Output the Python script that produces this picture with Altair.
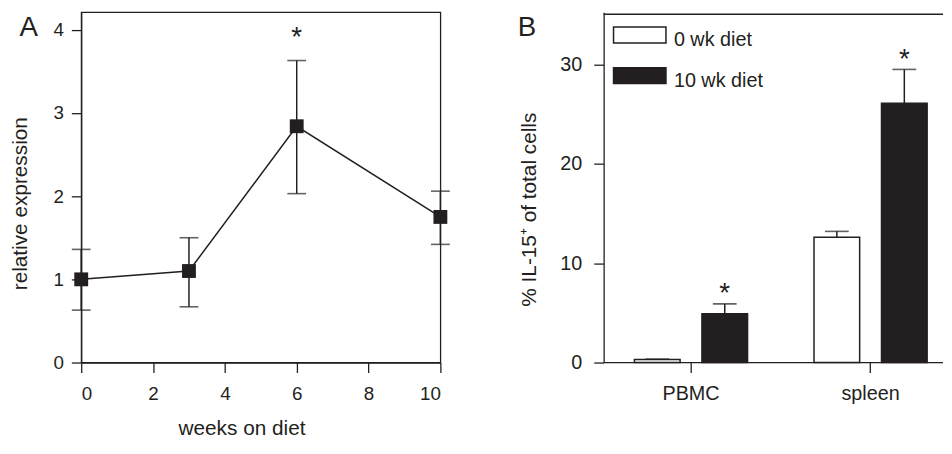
import altair as alt
import pandas as pd

INK = "#231f20"
FONT = "Liberation Sans"

# ---------------- Panel A data ----------------
weeks = [0, 3, 6, 10]
rel_expr = [1.00, 1.10, 2.84, 1.75]
rel_lo = [0.63, 0.67, 2.03, 1.42]
rel_hi = [1.36, 1.50, 3.63, 2.06]
star_a_week = [6]
star_a_y = [3.80]

# ---------------- Panel B data ----------------
tissues = ["PBMC", "spleen"]
diets = ["0 wk diet", "10 wk diet"]
pct_0wk = [0.3, 12.6]
pct_0wk_err = [0.35, 13.2]
pct_10wk = [4.9, 26.1]
pct_10wk_err = [5.9, 29.5]
star_b_tissue = ["PBMC", "spleen"]
star_b_diet = ["10 wk diet", "10 wk diet"]
star_b_y = [6.1, 29.6]

dfA = pd.DataFrame({"week": weeks, "expr": rel_expr, "lo": rel_lo, "hi": rel_hi})
dfStarA = pd.DataFrame({"week": star_a_week, "expr": star_a_y})

rows = []
for i, t in enumerate(tissues):
    rows.append({"tissue": t, "diet": diets[0], "pct": pct_0wk[i], "err": pct_0wk_err[i]})
    rows.append({"tissue": t, "diet": diets[1], "pct": pct_10wk[i], "err": pct_10wk_err[i]})
dfB = pd.DataFrame(rows)
dfStarB = pd.DataFrame({"tissue": star_b_tissue, "diet": star_b_diet, "pct": star_b_y})

H = 354
WA = 363
WB = 343

axis_common = dict(
    domainColor=INK, domainWidth=1.3, tickColor=INK, tickWidth=1.3, tickSize=10,
    labelFont=FONT, labelColor=INK, titleFont=FONT, titleColor=INK,
    titleFontWeight="normal", grid=False,
)

YA_TITLE = "relative expression"
YB_TITLE = "% IL-15\u207a of total cells"

# ---------------- Panel A ----------------
xA = alt.X("week:Q", scale=alt.Scale(domain=[0, 10], nice=False, zero=False),
           axis=alt.Axis(values=[0, 2, 4, 6, 8, 10], format="d", title="weeks on diet",
                         labelFontSize=19, labelPadding=12, titleFontSize=21,
                         titlePadding=15, titleX=162, **axis_common))
yA = alt.Y("expr:Q", title=YA_TITLE, scale=alt.Scale(domain=[0, 4.21], nice=False),
           axis=alt.Axis(values=[0, 1, 2, 3, 4], format="d", title=YA_TITLE,
                         labelFontSize=19, labelPadding=8, titleFontSize=21,
                         titlePadding=23, titleY=193, **axis_common))

baseA = alt.Chart(dfA)
lineA = baseA.mark_line(color=INK, strokeWidth=1.5).encode(x=xA, y=yA)
ruleA = baseA.mark_rule(color=INK, strokeWidth=1.5).encode(
    x="week:Q", y=alt.Y("lo:Q", title=YA_TITLE), y2="hi:Q")
capLoA = baseA.mark_tick(orient="horizontal", size=19, thickness=1.6, color=INK).encode(
    x="week:Q", y=alt.Y("lo:Q", title=YA_TITLE))
capHiA = baseA.mark_tick(orient="horizontal", size=19, thickness=1.6, color=INK).encode(
    x="week:Q", y=alt.Y("hi:Q", title=YA_TITLE))
ptsA = baseA.mark_square(size=196, color=INK, opacity=1).encode(
    x="week:Q", y=alt.Y("expr:Q", title=YA_TITLE))
starA = alt.Chart(dfStarA).mark_text(text="*", font=FONT, fontSize=28, color=INK,
                                     baseline="alphabetic").encode(
    x="week:Q", y=alt.Y("expr:Q", title=YA_TITLE))
letterA = alt.Chart(pd.DataFrame({"t": ["A"]})).mark_text(
    font=FONT, fontSize=28, color=INK, baseline="top", align="center").encode(
    x=alt.value(-53), y=alt.value(2), text="t:N")

panelA = alt.layer(lineA, ruleA, capLoA, capHiA, ptsA, starA, letterA).properties(
    width=WA, height=H, view=alt.ViewBackground(stroke=INK, strokeWidth=1.3))

# ---------------- Panel B ----------------
xB = alt.X("tissue:N", sort=tissues,
           scale=alt.Scale(paddingInner=0.37, paddingOuter=0.1300, align=0.66),
           axis=alt.Axis(title=None, labelAngle=0, domain=False, labelFontSize=20,
                         labelPadding=11, **axis_common))
xoB = alt.XOffset("diet:N", sort=diets, scale=alt.Scale(paddingInner=0.3235, paddingOuter=0))
yB = alt.Y("pct:Q", title=YB_TITLE, scale=alt.Scale(domain=[0, 35.25], nice=False),
           axis=alt.Axis(values=[0, 10, 20, 30], format="d", title=YB_TITLE,
                         labelFontSize=20, labelPadding=12, titleFontSize=21,
                         titlePadding=21, titleY=199, **axis_common))

baseB = alt.Chart(dfB)
barsB = baseB.mark_bar(stroke=INK, strokeWidth=1.5).encode(
    x=xB, xOffset=xoB, y=yB,
    fill=alt.Fill("diet:N", scale=alt.Scale(domain=diets, range=["white", INK]), legend=None))
ruleB = baseB.mark_rule(color=INK, strokeWidth=1.5).encode(
    x="tissue:N", xOffset="diet:N", y=alt.Y("pct:Q", title=YB_TITLE), y2="err:Q")
capB = baseB.mark_tick(orient="horizontal", size=24, thickness=1.6, color=INK).encode(
    x="tissue:N", xOffset="diet:N", y=alt.Y("err:Q", title=YB_TITLE))
starB = alt.Chart(dfStarB).mark_text(text="*", font=FONT, fontSize=28, color=INK,
                                     baseline="alphabetic").encode(
    x="tissue:N", xOffset="diet:N", y=alt.Y("pct:Q", title=YB_TITLE))

frame = pd.DataFrame({"a": [0]})
topRule = alt.Chart(frame).mark_rule(color=INK, strokeWidth=1.3).encode(
    x=alt.value(0), x2=alt.value(WB), y=alt.value(2))
botRule = alt.Chart(frame).mark_rule(color=INK, strokeWidth=1.3).encode(
    x=alt.value(0), x2=alt.value(WB), y=alt.value(H))

leg0 = pd.DataFrame({"diet": [diets[0]]})
leg1 = pd.DataFrame({"diet": [diets[1]]})
legRect0 = alt.Chart(leg0).mark_rect(fill="white", stroke=INK, strokeWidth=1.5).encode(
    x=alt.value(10), x2=alt.value(63), y=alt.value(15), y2=alt.value(31))
legRect1 = alt.Chart(leg1).mark_rect(fill=INK, stroke=INK, strokeWidth=1.5).encode(
    x=alt.value(10), x2=alt.value(63), y=alt.value(56), y2=alt.value(72))
legText0 = alt.Chart(leg0).mark_text(font=FONT, fontSize=20, color=INK, align="left",
                                     baseline="alphabetic").encode(
    x=alt.value(71), y=alt.value(34), text="diet:N")
legText1 = alt.Chart(leg1).mark_text(font=FONT, fontSize=20, color=INK, align="left",
                                     baseline="alphabetic").encode(
    x=alt.value(71), y=alt.value(76), text="diet:N")
letterB = alt.Chart(pd.DataFrame({"t": ["B"]})).mark_text(
    font=FONT, fontSize=28, color=INK, baseline="top", align="center").encode(
    x=alt.value(-77.5), y=alt.value(2), text="t:N")

panelB = alt.layer(barsB, ruleB, capB, starB, topRule, botRule,
                   legRect0, legRect1, legText0, legText1, letterB).properties(
    width=WB, height=H, view=alt.ViewBackground(stroke=None))

chart = alt.hconcat(panelA, panelB, spacing=67).properties(
    padding={"left": 0, "top": 1, "right": 0, "bottom": 0}
).configure_view(stroke=None)

chart.save("out.html", embed_options={"renderer": "svg", "actions": False})
